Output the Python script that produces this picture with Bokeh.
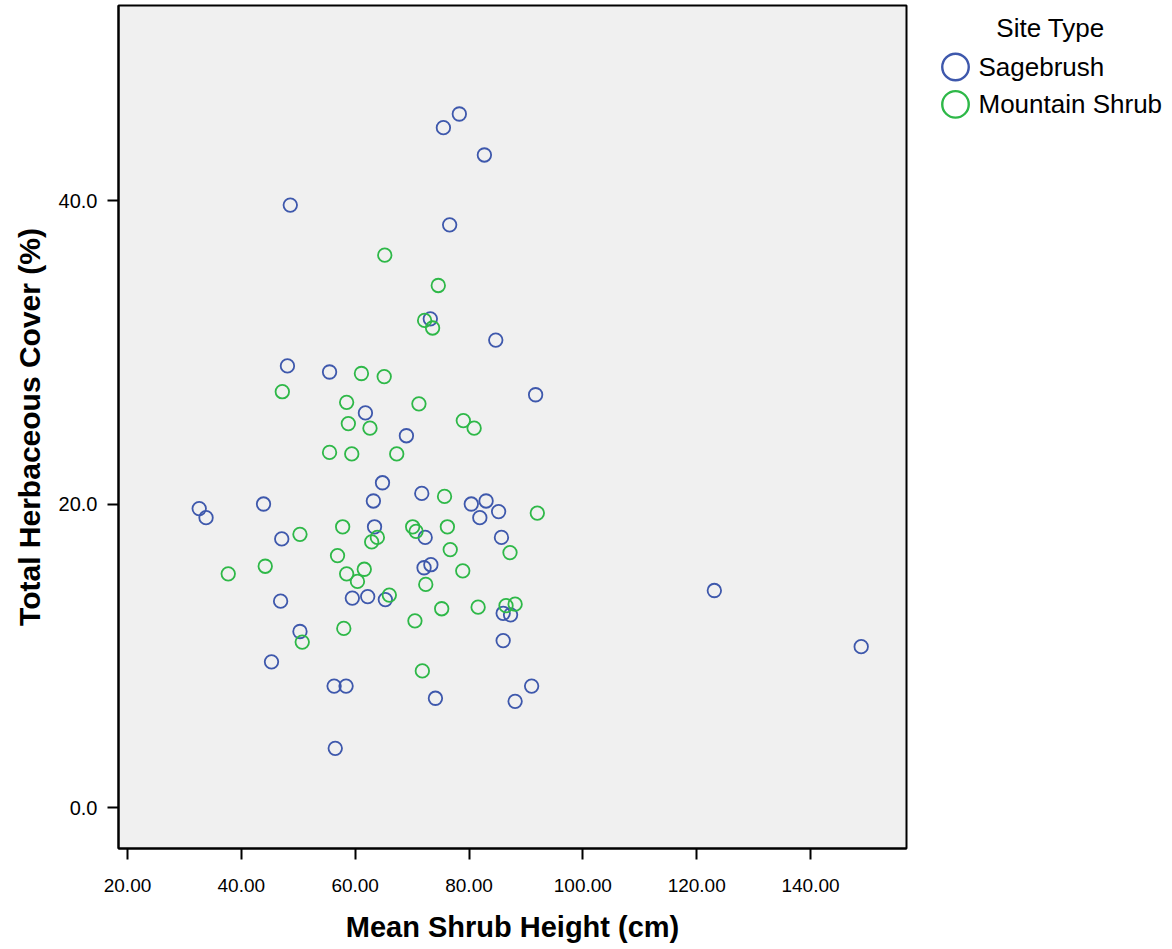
from bokeh.plotting import figure
from bokeh.models import Range1d, FixedTicker, NumeralTickFormatter, Label
from bokeh.layouts import row
from bokeh.embed import file_html
from bokeh.resources import INLINE

# ---- data ----
sage_x = [78.3, 75.5, 82.7, 48.6, 76.6, 73.2, 84.7, 48.1, 55.5, 91.7,
          61.8, 69.0, 64.8, 71.7, 32.6, 33.8, 43.9, 63.2, 80.4, 83.0,
          81.9, 85.2, 47.1, 63.4, 72.3, 85.7, 73.3, 72.1, 46.9, 59.5,
          62.2, 65.3, 86.0, 87.3, 86.0, 50.3, 45.3, 56.3, 58.4, 74.1,
          56.5, 91.0, 88.1, 123.1, 148.9]
sage_y = [45.7, 44.8, 43.0, 39.7, 38.4, 32.2, 30.8, 29.1, 28.7, 27.2,
          26.0, 24.5, 21.4, 20.7, 19.7, 19.1, 20.0, 20.2, 20.0, 20.2,
          19.1, 19.5, 17.7, 18.5, 17.8, 17.8, 16.0, 15.8, 13.6, 13.8,
          13.9, 13.7, 12.8, 12.7, 11.0, 11.6, 9.6, 8.0, 8.0, 7.2,
          3.9, 8.0, 7.0, 14.3, 10.6]

mtn_x = [65.2, 74.6, 72.2, 73.6, 47.2, 61.1, 65.1, 58.5, 71.2, 58.8,
         62.6, 55.5, 59.4, 67.3, 79.0, 80.9, 75.7, 92.0, 57.8, 50.3,
         62.9, 63.9, 70.1, 70.7, 76.2, 76.7, 56.9, 44.2, 37.7, 58.5,
         61.6, 60.4, 66.0, 72.4, 78.9, 75.2, 70.5, 81.6, 58.0, 50.7,
         71.8, 87.2, 86.5, 88.1]
mtn_y = [36.4, 34.4, 32.1, 31.6, 27.4, 28.6, 28.4, 26.7, 26.6, 25.3,
         25.0, 23.4, 23.3, 23.3, 25.5, 25.0, 20.5, 19.4, 18.5, 18.0,
         17.5, 17.8, 18.5, 18.2, 18.5, 17.0, 16.6, 15.9, 15.4, 15.4,
         15.7, 14.9, 14.0, 14.7, 15.6, 13.1, 12.3, 13.2, 11.8, 10.9,
         9.0, 16.8, 13.3, 13.4]

x_ticks = [20, 40, 60, 80, 100, 120, 140]
y_ticks = [0, 20, 40]
series_names = ["Sagebrush", "Mountain Shrub"]
legend_title = "Site Type"
x_title = "Mean Shrub Height (cm)"
y_title = "Total Herbaceous Cover (%)"

BLUE = "#3E58AC"
GREEN = "#2EB848"
FONT = "Liberation Sans"

# ---- main plot ----
p = figure(frame_width=788, frame_height=843,
           x_range=Range1d(18.42, 156.86), y_range=Range1d(-2.70, 52.85),
           output_backend="svg", toolbar_location=None,
           min_border_left=118, min_border_right=2,
           min_border_top=5, min_border_bottom=96)
p.background_fill_color = "#F0F0F0"
p.border_fill_color = "white"
p.outline_line_color = "black"
p.outline_line_width = 2
p.grid.visible = False

p.scatter(sage_x, sage_y, marker="circle", size=13.5, fill_color=None,
          line_color=BLUE, line_width=1.8)
p.scatter(mtn_x, mtn_y, marker="circle", size=13.5, fill_color=None,
          line_color=GREEN, line_width=1.8)

for ax in (p.xaxis[0], p.yaxis[0]):
    ax.axis_line_color = "black"
    ax.axis_line_width = 2
    ax.major_tick_line_color = "black"
    ax.major_tick_line_width = 2
    ax.major_tick_out = 11
    ax.major_tick_in = 0
    ax.minor_tick_line_color = None
    ax.major_label_text_font = FONT
    ax.major_label_text_color = "black"
    ax.axis_label_text_font = FONT
    ax.axis_label_text_font_style = "bold"
    ax.axis_label_text_color = "black"

p.xaxis[0].ticker = FixedTicker(ticks=x_ticks)
p.xaxis[0].formatter = NumeralTickFormatter(format="0.00")
p.xaxis[0].major_label_text_font_size = "19px"
p.xaxis[0].major_label_standoff = 19
p.xaxis[0].axis_label = x_title
p.xaxis[0].axis_label_text_font_size = "29px"
p.xaxis[0].axis_label_standoff = 16

p.yaxis[0].ticker = FixedTicker(ticks=y_ticks)
p.yaxis[0].formatter = NumeralTickFormatter(format="0.0")
p.yaxis[0].major_label_text_font_size = "20px"
p.yaxis[0].major_label_standoff = 10
p.yaxis[0].axis_label = y_title
p.yaxis[0].axis_label_text_font_size = "30px"
p.yaxis[0].axis_label_standoff = 10

# ---- legend panel (its frame is aligned with the main frame: page y 5..848) ----
lg = figure(width=262, height=944, x_range=Range1d(908, 1170), y_range=Range1d(848, 5),
            output_backend="svg", toolbar_location=None,
            x_axis_location=None, y_axis_location=None,
            min_border=0)
lg.outline_line_color = None
lg.grid.visible = False
lg.background_fill_color = "white"
lg.border_fill_color = "white"

lg.add_layout(Label(x=1050, y=28, text=legend_title, text_font=FONT,
                    text_font_size="26px", text_align="center",
                    text_baseline="middle", text_color="black"))
colors = [BLUE, GREEN]
rows_y = [66.5, 104]
lg.scatter([955, 955], rows_y, marker="circle", size=26.5, fill_color=None,
           line_color=colors, line_width=2.4)
for name, yy in zip(series_names, rows_y):
    lg.add_layout(Label(x=978, y=yy, text=name, text_font=FONT,
                        text_font_size="26px", text_align="left",
                        text_baseline="middle", text_color="black"))

layout = row(p, lg, spacing=0)
open("out.html", "w").write(file_html(layout, INLINE))
